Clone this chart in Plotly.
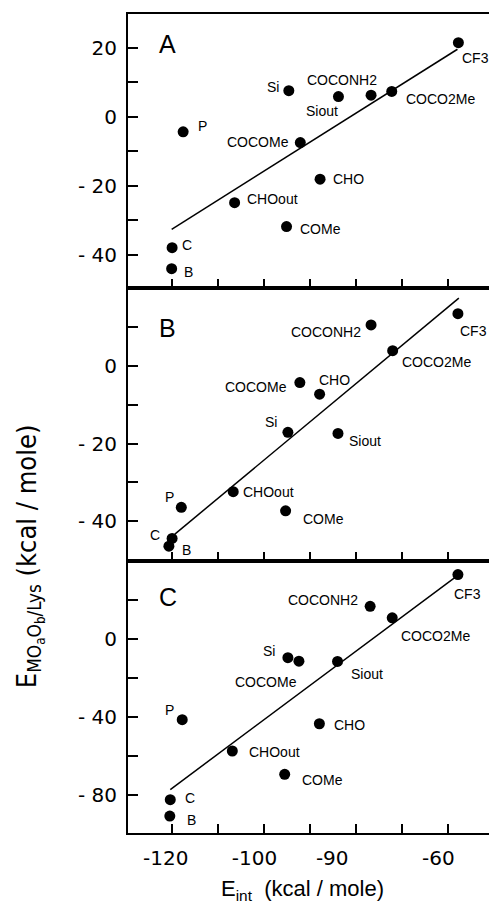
import plotly.graph_objects as go

# ---------------- data ----------------
labels = ["CF3", "COCONH2", "COCO2Me", "Si", "Siout", "COCOMe",
          "CHO", "CHOout", "COMe", "P", "C", "B"]

eint_A = [-57.7, -76.7, -72.2, -94.6, -83.8, -92.1, -87.8, -106.4, -95.1, -117.6, -120.0, -120.1]
emo_A = [21.4, 6.2, 7.3, 7.5, 5.8, -7.5, -18.1, -24.9, -31.8, -4.4, -37.9, -44.0]

eint_B = [-57.8, -76.7, -72.0, -94.8, -83.9, -92.2, -87.9, -106.7, -95.3, -118.0, -120.0, -120.7]
emo_B = [13.4, 10.5, 3.9, -17.1, -17.4, -4.3, -7.3, -32.4, -37.3, -36.4, -44.4, -46.4]

eint_C = [-57.8, -76.9, -72.1, -94.8, -84.0, -92.4, -87.95, -106.9, -95.5, -117.8, -120.4, -120.5]
emo_C = [33.0, 16.7, 10.8, -9.7, -11.6, -11.5, -43.6, -57.6, -69.6, -41.5, -82.6, -91.0]

fit_A_x = [-120.1, -57.9]
fit_A_y = [-32.6, 19.5]
fit_B_x = [-119.4, -57.6]
fit_B_y = [-43.3, 17.4]
fit_C_x = [-120.4, -57.9]
fit_C_y = [-77.4, 32.5]

x_tickvals = [-120, -110, -100, -90, -80, -70, -60]
x_ticktext = ["-120", "", "-100", "-90", "", "", "-60"]

yA_tickvals = [20, 10, 0, -10, -20, -30, -40]
yA_ticktext = ["20", "", "0", "", "- 20", "", "- 40"]
yB_tickvals = [10, 0, -10, -20, -30, -40]
yB_ticktext = ["", "0", "", "- 20", "", "- 40"]
yC_tickvals = [20, 0, -20, -40, -60, -80]
yC_ticktext = ["", "0", "", "- 40", "", "- 80"]

panel_letters = ["A", "B", "C"]

# ---------------- label placement (xanchor, xshift px, yshift px) ----------------
place_A = {
    "CF3": ("left", 2, -15), "Si": ("right", -8, 4), "Siout": ("center", -16, -14),
    "COCONH2": ("center", -29, 15), "COCO2Me": ("left", 12, -8), "P": ("left", 13, 6),
    "COCOMe": ("right", -9, 1), "CHO": ("left", 11, 0), "CHOout": ("left", 10, 4),
    "COMe": ("left", 11, -2), "C": ("left", 8, 3), "B": ("left", 10, -3),
}
place_B = {
    "CF3": ("left", 0, -17), "COCONH2": ("right", -8, -7), "COCO2Me": ("left", 7, -11),
    "COCOMe": ("right", -11, -4), "CHO": ("left", -3, 14), "Si": ("right", -9, 10),
    "Siout": ("left", 9, -8), "CHOout": ("left", 8, 0), "P": ("right", -5, 10),
    "COMe": ("left", 15, -8), "C": ("right", -10, 3), "B": ("left", 11, -4),
}
place_C = {
    "CF3": ("left", -6, -19), "COCONH2": ("right", -10, 6), "COCO2Me": ("left", 7, -18),
    "Si": ("right", -11, 7), "COCOMe": ("right", 0, -21), "Siout": ("left", 11, -13),
    "P": ("right", -6, 10), "CHO": ("left", 13, -1), "CHOout": ("left", 15, -1),
    "COMe": ("left", 15, -6), "C": ("left", 13, 2), "B": ("left", 15, -4),
}

# horizontal nudges of the x tick labels (as in the original, they are not centred on ticks)
NB = "\u00a0"
x_label_pad = {"-120": (0, 2), "-100": (0, 3), "-90": (7, 0), "-60": (0, 3)}
x_ticktext_shown = [NB * x_label_pad[t][0] + t + NB * x_label_pad[t][1] if t else ""
                    for t in x_ticktext]

# ---------------- figure ----------------
# the page body has an 8px margin, so the figure is 8px smaller each way
W, H = 489, 901
mt, ml, mr = 5, 120, 4
plot_bottom = 824.7
mb = H - plot_bottom
ph = plot_bottom - mt
d2 = (plot_bottom - 279.3) / ph
d1 = (plot_bottom - 552.0) / ph

fig = go.Figure()

panels = [
    ("x", "y", eint_A, emo_A, fit_A_x, fit_A_y, place_A),
    ("x2", "y2", eint_B, emo_B, fit_B_x, fit_B_y, place_B),
    ("x3", "y3", eint_C, emo_C, fit_C_x, fit_C_y, place_C),
]

lab_font = dict(family="Liberation Sans, Arial, sans-serif", size=14, color="black")

for i, (xa, ya, xs, ys, fx, fy, place) in enumerate(panels):
    fig.add_trace(go.Scatter(x=fx, y=fy, mode="lines", xaxis=xa, yaxis=ya,
                             line=dict(color="black", width=1.5), showlegend=False,
                             hoverinfo="skip"))
    fig.add_trace(go.Scatter(x=xs, y=ys, mode="markers", xaxis=xa, yaxis=ya,
                             marker=dict(color="black", size=11, line=dict(width=0)),
                             showlegend=False, text=labels))
    for lab, xv, yv in zip(labels, xs, ys):
        anc, dx, dy = place[lab]
        fig.add_annotation(x=xv, y=yv, xref=xa, yref=ya, text=lab, showarrow=False,
                           xanchor=anc, yanchor="middle", xshift=dx, yshift=dy,
                           font=lab_font)

# panel letters
letter_y = [0.892, 0.855, 0.865]
for i, (lt, ly) in enumerate(zip(panel_letters, letter_y)):
    suffix = "" if i == 0 else str(i + 1)
    fig.add_annotation(x=0.079, y=ly, xref=f"x{suffix} domain", yref=f"y{suffix} domain",
                       text=lt, showarrow=False, xanchor="left", yanchor="middle",
                       font=dict(family="Liberation Sans, Arial, sans-serif", size=25, color="black"))

tick_font = dict(family="DejaVu Sans, sans-serif", size=20, color="black")
common_x = dict(range=[-129.6, -50.6], tickmode="array", tickvals=x_tickvals,
                ticks="inside", ticklen=9, tickwidth=1.5, tickcolor="black",
                showline=True, linecolor="black", linewidth=2, mirror=True,
                showgrid=False, zeroline=False, tickfont=tick_font, tickangle=0)
common_y = dict(ticks="inside", ticklen=10, tickwidth=1.5, tickcolor="black",
                showline=True, linecolor="black", linewidth=2, mirror=True,
                showgrid=False, zeroline=False, tickfont=tick_font, tickmode="array",
                ticklabelstandoff=5)

fig.update_layout(
    width=W, height=H,
    margin=dict(l=ml, r=mr, t=mt, b=mb),
    paper_bgcolor="white", plot_bgcolor="white",
    showlegend=False,
    xaxis=dict(common_x, domain=[0, 1], anchor="y", showticklabels=False, ticktext=x_ticktext),
    xaxis2=dict(common_x, domain=[0, 1], anchor="y2", showticklabels=False, ticktext=x_ticktext),
    xaxis3=dict(common_x, domain=[0, 1], anchor="y3", showticklabels=True,
                ticktext=x_ticktext_shown, ticklabelstandoff=6),
    yaxis=dict(common_y, domain=[d2, 1], range=[-49.6, 29.7], anchor="x",
               tickvals=yA_tickvals, ticktext=yA_ticktext),
    yaxis2=dict(common_y, domain=[d1, d2], range=[-50.1, 20.0], anchor="x2",
                tickvals=yB_tickvals, ticktext=yB_ticktext),
    yaxis3=dict(common_y, domain=[0, d1], range=[-99.7, 40.2], anchor="x3",
                tickvals=yC_tickvals, ticktext=yC_ticktext),
)

# axis titles
fig.add_annotation(x=0.482, y=-0.07, xref="paper", yref="paper",
                   text="E<sub>int</sub>  (kcal / mole)", showarrow=False,
                   xanchor="center", yanchor="middle",
                   font=dict(family="Liberation Sans, Arial, sans-serif", size=22, color="black"))
fig.add_annotation(x=-0.27, y=0.338, xref="paper", yref="paper",
                   text="E<sub>MO<sub>a</sub>O<sub>b</sub>/Lys</sub> (kcal / mole)",
                   textangle=-90, showarrow=False, xanchor="center", yanchor="middle",
                   font=dict(family="Liberation Sans Narrow, DejaVu Sans Condensed, Liberation Sans, sans-serif",
                             size=27, color="black"))

fig.write_html("out.html")
